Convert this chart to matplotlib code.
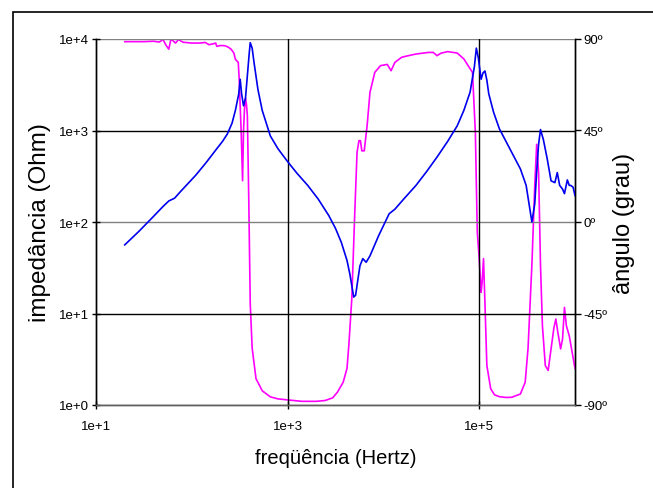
import numpy as np
import matplotlib.pyplot as plt
from matplotlib.patches import Rectangle

# impedance curve (log10 of Hz, log10 of Ohm)
imp_f_exp = [1.30, 1.45, 1.59, 1.70, 1.76, 1.82, 1.88, 1.96, 2.04, 2.15, 2.26, 2.32,
             2.37, 2.42, 2.455, 2.49, 2.505, 2.52, 2.54, 2.56, 2.58, 2.60, 2.61,
             2.63, 2.65, 2.69, 2.735, 2.82, 2.90, 3.0, 3.10, 3.21, 3.32, 3.43,
             3.50, 3.56, 3.62, 3.65, 3.69, 3.71, 3.735, 3.755, 3.785, 3.82, 3.86,
             3.95, 4.06, 4.12, 4.22, 4.34, 4.45, 4.56, 4.67, 4.77, 4.84, 4.905,
             4.95, 4.97, 4.99, 5.02, 5.04, 5.06, 5.08, 5.10, 5.15, 5.21, 5.32,
             5.43, 5.49, 5.55, 5.58, 5.60, 5.62, 5.64, 5.67, 5.71, 5.75, 5.79,
             5.815, 5.84, 5.87, 5.89, 5.92, 5.94, 5.955, 5.98, 6.0]
imp_exp = [1.75, 1.90, 2.05, 2.17, 2.23, 2.26, 2.33, 2.42, 2.51, 2.65, 2.80, 2.88,
           2.96, 3.08, 3.22, 3.40, 3.56, 3.40, 3.27, 3.35, 3.60, 3.85, 3.96,
           3.90, 3.74, 3.45, 3.22, 2.94, 2.80, 2.66, 2.53, 2.40, 2.25, 2.07,
           1.93, 1.78, 1.58, 1.43, 1.18, 1.20, 1.38, 1.52, 1.60, 1.56, 1.63,
           1.85, 2.09, 2.14, 2.26, 2.40, 2.55, 2.71, 2.88, 3.05, 3.22, 3.42,
           3.70, 3.90, 3.80, 3.56, 3.63, 3.65, 3.55, 3.40, 3.20, 3.02, 2.80,
           2.58, 2.40, 2.00, 2.20, 2.55, 2.85, 3.01, 2.90, 2.69, 2.45, 2.43,
           2.54, 2.40, 2.36, 2.31, 2.46, 2.40, 2.40, 2.38, 2.29]

# phase angle curve (log10 of Hz, degrees)
ang_f_exp = [1.30, 1.50, 1.60, 1.66, 1.70, 1.73, 1.76, 1.78, 1.80, 1.83, 1.86, 1.91,
             2.00, 2.08, 2.14, 2.18, 2.22, 2.25, 2.26, 2.30, 2.345, 2.38, 2.41,
             2.44, 2.455, 2.485, 2.495, 2.505, 2.515, 2.53, 2.54, 2.55, 2.56,
             2.57, 2.58, 2.595, 2.61, 2.63, 2.67, 2.735, 2.82, 2.90, 3.0, 3.15,
             3.30, 3.39, 3.47, 3.52, 3.58, 3.62, 3.64, 3.67, 3.70, 3.725, 3.745,
             3.76, 3.775, 3.80, 3.83, 3.86, 3.91, 3.97, 4.04, 4.08, 4.12, 4.19,
             4.26, 4.34, 4.47, 4.52, 4.56, 4.60, 4.67, 4.77, 4.84, 4.88, 4.93,
             4.96, 4.98, 5.0, 5.02, 5.03, 5.045, 5.06, 5.08, 5.12, 5.16, 5.21,
             5.28, 5.34, 5.43, 5.48, 5.51, 5.55, 5.58, 5.60, 5.62, 5.64, 5.66,
             5.69, 5.72, 5.75, 5.78, 5.80, 5.82, 5.85, 5.87, 5.89, 5.91, 5.94,
             5.97, 6.0]
ang_deg = [88.7, 88.7, 88.9, 88.5, 89.7, 87.0, 85.0, 89.5, 89.3, 88.0, 89.7, 88.4,
           88.0, 88.0, 88.3, 87.2, 87.6, 88.0, 86.4, 86.8, 86.7, 86.0, 85.0,
           83.0, 80.0, 78.5, 70.0, 57.0, 45.0, 20.3, 45.0, 55.6, 60.8, 58.0,
           52.3, 10.0, -40.0, -62.0, -77.0, -83.0, -86.0, -87.0, -87.5, -88.2,
           -88.2, -87.8, -86.5, -83.7, -78.8, -72.0, -60.0, -37.8, 3.1, 34.3,
           40.0, 40.0, 35.0, 35.0, 47.4, 63.8, 73.6, 76.9, 77.5, 74.4, 78.5,
           81.0, 81.8, 82.6, 83.4, 83.4, 81.8, 83.0, 83.8, 83.1, 80.2, 77.2,
           73.6, 44.0, -5.0, -18.0, -34.6, -30.0, -18.0, -40.0, -70.6, -82.0,
           -85.0, -85.9, -86.3, -86.2, -84.6, -78.8, -62.0, -21.0, 18.0, 38.2,
           24.4, -21.5, -51.0, -70.6, -73.0, -62.4, -52.0, -47.7, -54.0, -62.4,
           -57.5, -42.0, -51.0, -56.0, -64.0, -72.0]

imp_ticks = [1, 10, 100, 1000, 10000]
imp_labels = ['1e+0', '1e+1', '1e+2', '1e+3', '1e+4']
freq_ticks = [10, 1000, 100000]
freq_labels = ['1e+1', '1e+3', '1e+5']
ang_ticks = [-90, -45, 0, 45, 90]
ang_labels = ['-90º', '-45º', '0º', '45º', '90º']

plt.rcParams['font.family'] = ['Liberation Sans', 'DejaVu Sans']

fig = plt.figure(figsize=(6.53, 4.89), dpi=100)
ax = fig.add_axes([96 / 653, 1 - 406 / 489, 479 / 653, 366 / 489])
ax2 = ax.twinx()

# outer frame of the figure
fig.patches.append(Rectangle((13 / 653, -0.1), 1.2, 1 - 13 / 489 + 0.1,
                             transform=fig.transFigure, fill=False,
                             edgecolor='black', linewidth=1.2))

ax.set_xscale('log')
ax.set_yscale('log')
ax.set_xlim(10, 1e6)
ax.set_ylim(1, 1e4)
ax2.set_ylim(-90, 90)

# grid: alternating grey / black like the original
for v, c in zip(imp_ticks, ['#808080', 'black', '#808080', 'black', '#808080']):
    ax.axhline(v, color=c, linewidth=1.0, zorder=1)
for v in freq_ticks[1:]:
    ax.axvline(v, color='black', linewidth=1.0, zorder=1)

ax2.plot(10 ** np.array(ang_f_exp), ang_deg, color='#ff00ff', linewidth=1.2, zorder=3)
ax.plot(10 ** np.array(imp_f_exp), 10 ** np.array(imp_exp), color='#0000ee',
        linewidth=1.2, zorder=4)
ax.set_zorder(ax2.get_zorder() + 1)
ax.patch.set_visible(False)

ax.set_xticks(freq_ticks)
ax.set_xticklabels(freq_labels)
ax.set_yticks(imp_ticks)
ax.set_yticklabels(imp_labels)
ax.minorticks_off()
ax2.set_yticks(ang_ticks)
ax2.set_yticklabels(ang_labels)

for a in (ax, ax2):
    for s in a.spines.values():
        s.set_linewidth(1.0)
    a.spines['top'].set_visible(False)
    a.spines['bottom'].set_color('#606060')
ax.tick_params(axis='both', direction='inout', length=6, width=1, labelsize=9.5, pad=2)
ax2.tick_params(axis='y', direction='out', length=4, width=1, labelsize=9.5, pad=2)
ax.tick_params(axis='x', pad=8)

ax.set_xlabel('freqüência (Hertz)', fontsize=14.5, labelpad=11)
ax.set_ylabel('impedância (Ohm)', fontsize=17.5, labelpad=6)
ax2.set_ylabel('ângulo (grau)', fontsize=17, labelpad=4)

fig.savefig('out.png', dpi=100)
